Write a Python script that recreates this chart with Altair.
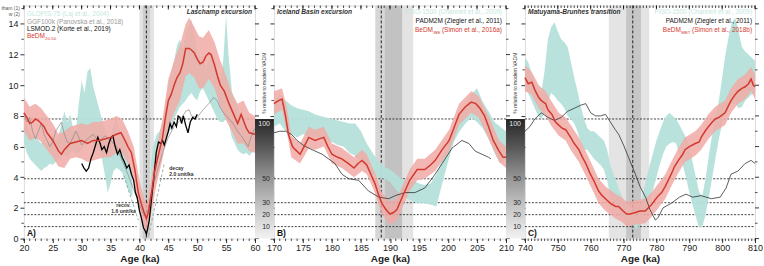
import altair as alt
import pandas as pd

FONT = "Liberation Sans"
H = 234
YMAX = 15.2
CYAN = "#b4e0d9"
PINK = "#f1aaa6"
RED = "#d2392f"

# horizontal reference levels (% of modern VADM)
LEVELS = [7.8, 3.9, 2.34, 1.56, 0.78]
PCT_LABELS = ["100", "50", "30", "20", "10"]

# ---------------- Panel A : Laschamp ----------------
a_red_age = [20, 20.5, 21, 21.5, 22, 22.5, 23, 23.5, 24, 25, 26, 26.5, 27, 28, 29, 30, 31, 32, 33, 34, 35, 36,
             36.8, 37.5, 38, 38.6, 39.2, 39.8, 40.3, 40.8, 41.2, 41.6, 42.1, 42.6, 43.0, 43.5, 44.0, 44.5, 45,
             45.5, 46, 46.5, 47, 47.5, 48, 48.6, 49, 49.5, 50, 50.5, 51, 51.5, 52, 52.4, 53, 53.5, 54, 54.7,
             55.5, 56.2, 57, 57.6, 58, 58.5, 59, 60]
a_red_val = [8.2, 7.9, 7.5, 7.6, 7.8, 7.7, 7.5, 7.3, 6.9, 6.4, 5.7, 5.5, 5.8, 6.2, 6.3, 6.4, 6.2, 6.4, 6.4, 6.5,
             6.6, 6.8, 6.9, 6.4, 6.0, 5.6, 4.5, 3.0, 2.3, 1.7, 1.3, 1.8, 3.0, 4.3, 5.0, 5.8, 6.6, 7.9, 9.0, 9.4,
             10.0, 10.5, 10.8, 11.4, 12.4, 12.4, 12.3, 12.1, 11.7, 11.4, 11.5, 11.9, 12.1, 12.0, 11.3, 10.6,
             10.0, 9.6, 8.8, 8.2, 7.5, 8.1, 7.7, 7.2, 6.9, 6.8]
a_pink_age = [20, 21, 22, 23, 24, 25, 26, 27, 28, 29, 30, 31, 32, 33, 34, 35, 36, 37, 38, 39, 40, 40.8, 41.3, 42,
              43, 44, 45, 46, 47, 48, 48.6, 49.5, 50.3, 51, 52, 53, 54, 55, 56, 57, 58, 59, 60]
a_pink_lo = [7.0, 6.4, 6.6, 6.3, 5.8, 5.3, 4.7, 4.6, 5.2, 5.3, 5.2, 5.0, 5.1, 5.2, 5.3, 5.3, 5.6, 5.6, 4.9, 3.8,
             1.8, 0.7, 0.4, 1.6, 3.6, 5.2, 7.2, 8.2, 9.0, 10.6, 10.8, 10.5, 9.8, 9.8, 10.4, 9.8, 8.6, 7.7, 7.0,
             6.2, 6.2, 5.7, 5.6]
a_pink_hi = [9.2, 8.6, 8.8, 8.5, 8.0, 7.5, 6.8, 7.0, 7.3, 7.4, 7.5, 7.4, 7.6, 7.6, 7.7, 7.8, 8.0, 7.8, 7.0, 6.0,
             3.8, 2.6, 2.2, 3.8, 6.0, 7.8, 10.4, 11.6, 12.6, 14.0, 14.4, 13.8, 13.2, 13.1, 13.6, 12.8, 11.6,
             10.6, 9.5, 8.8, 9.0, 8.2, 8.0]
a_cyan_age = [20, 20.5, 21, 21.5, 22, 22.5, 23, 23.5, 24, 24.5, 25, 25.5, 26, 26.5, 27, 27.5, 28, 28.5, 29, 29.5,
              30, 30.5, 31, 31.5, 32, 32.5, 33, 33.5, 34, 34.5, 35, 35.5, 36, 36.5, 37, 37.5, 38, 38.5, 38.8,
              42.0, 42.5, 43, 43.5, 44, 44.5, 45, 45.5, 46, 46.5, 47, 47.5, 48, 48.5, 49, 49.5, 50, 50.5, 51,
              51.5, 52, 52.5, 53, 53.5, 54, 54.5, 55, 55.4, 56, 56.5, 57, 57.5, 58, 58.5, 59, 59.5, 60]
a_cyan_lo = [6.3, 5.6, 5.2, 5.0, 4.8, 4.6, 4.4, 4.6, 4.7, 4.9, 4.8, 5.0, 5.1, 5.4, 5.5, 5.3, 5.6, 5.8, 5.5, 5.6,
             5.8, 6.0, 6.2, 6.3, 6.2, 6.0, 5.8, 5.2, 4.2, 3.0, 3.6, 4.4, 4.6, 4.5, 4.3, 3.8, 3.2, 2.8, 2.8,
             3.0, 4.0, 5.0, 5.4, 5.8, 6.4, 6.8, 7.2, 7.8, 8.2, 8.6, 8.8, 9.0, 9.3, 9.5, 9.2, 9.0, 9.6, 9.8,
             9.4, 9.0, 8.6, 8.2, 7.8, 7.6, 7.6, 7.8, 7.6, 6.6, 6.2, 5.8, 5.6, 5.5, 5.6, 5.4, 5.6, 5.8]
a_cyan_hi = [7.6, 7.4, 7.0, 6.6, 6.8, 6.4, 6.2, 6.5, 6.0, 6.4, 6.7, 6.3, 6.8, 7.4, 8.3, 7.6, 8.1, 7.2, 7.0, 8.8,
             10.3, 9.5, 10.9, 11.1, 9.9, 9.2, 8.5, 7.8, 7.2, 6.8, 6.6, 7.4, 7.8, 7.2, 6.8, 6.2, 5.6, 4.6, 3.8,
             5.0, 6.2, 6.8, 7.0, 7.6, 8.8, 10.0, 10.8, 11.6, 12.6, 13.0, 12.4, 13.4, 13.8, 14.3, 13.2, 12.2,
             11.6, 12.0, 11.2, 11.6, 12.2, 11.8, 11.0, 10.4, 11.6, 14.6, 12.0, 9.6, 9.0, 8.6, 8.0, 7.8, 7.2,
             7.0, 7.4, 7.2]
a_cyan_seg = [1] * 39 + [2] * 37
a_grey_age = [20, 20.5, 21, 21.5, 22, 22.5, 23, 23.5, 24, 24.5, 25, 25.5, 26, 26.5, 27, 27.5, 28, 28.5, 29, 29.5,
              30, 31, 32, 33, 34, 35, 36, 37, 38, 39, 40, 40.8, 41.5, 42, 43, 44, 45, 46, 47, 48, 48.6, 49, 50,
              51, 52, 52.8, 53.5, 54, 55, 56, 57, 58, 58.8, 59.3, 60]
a_grey_val = [8.2, 7.6, 7.9, 7.0, 6.5, 7.0, 7.5, 6.8, 6.4, 6.0, 6.3, 7.0, 7.3, 7.6, 6.8, 6.3, 6.2, 6.6, 7.0, 6.6,
              6.1, 6.5, 6.8, 6.3, 6.7, 6.4, 6.0, 5.1, 4.2, 3.2, 2.2, 1.5, 1.9, 2.9, 4.3, 5.6, 6.6, 7.3, 7.7, 8.3,
              8.4, 8.0, 7.9, 8.4, 8.8, 9.2, 9.0, 8.5, 8.0, 7.6, 7.0, 6.5, 6.0, 6.6, 7.2]
a_black_age = [30.0, 30.4, 30.8, 31.2, 31.6, 32.0, 32.4, 32.8, 33.2, 33.5, 33.9, 34.3, 34.7, 35.1, 35.4, 35.8,
               36.2, 36.6, 37.0, 37.4, 37.8, 38.2, 38.6, 39.0, 39.3, 39.6, 40.0, 40.3, 40.7, 41.0, 41.2, 41.4,
               41.7, 41.9, 42.2, 42.5, 42.9, 43.3, 43.7, 44.0, 44.3, 44.7, 45.0, 45.3, 45.6, 46.0, 46.4, 46.7,
               47.0, 47.3, 47.6, 48.0, 48.4, 48.8, 49.2, 49.6, 50.0]
a_black_val = [4.9, 4.6, 4.4, 4.6, 5.2, 5.6, 6.1, 6.6, 6.2, 5.8, 6.0, 5.6, 6.2, 6.6, 6.7, 6.0, 5.5, 5.8, 5.3, 5.0,
               4.6, 4.8, 4.2, 3.8, 3.0, 2.7, 1.8, 1.4, 0.7, 0.5, 0.3, 0.6, 1.2, 1.9, 3.0, 4.0, 5.6, 6.3, 6.2,
               6.4, 6.1, 6.6, 7.0, 7.5, 7.2, 7.6, 7.3, 8.0, 7.9, 7.5, 8.0, 7.4, 6.9, 7.6, 7.9, 7.8, 8.1]
a_recov_age = [37.3, 39.8]
a_recov_val = [4.1, 1.2]
a_decay_age = [41.6, 44.3]
a_decay_val = [0.2, 4.9]

# ---------------- Panel B : Iceland Basin ----------------
b_red_age = [170, 170.8, 171.4, 172.0, 172.5, 173.2, 173.7, 174.5, 175.2, 176, 177.1, 177.8, 178.6, 179.3, 180,
             181, 181.7, 182.8, 183.8, 184.5, 185.2, 186, 186.7, 187.4, 188, 188.6, 189.3, 190, 190.6, 191.2,
             192.1, 193.4, 194.7, 196, 197, 197.8, 199, 200.2, 201, 201.9, 203, 204, 204.8, 205.5, 206.3, 207,
             207.8, 208.8, 209.5, 210]
b_red_val = [8.8, 9.0, 9.1, 8.0, 6.8, 6.0, 5.8, 5.5, 6.0, 6.6, 6.4, 6.5, 6.6, 6.0, 5.5, 5.3, 5.2, 4.9, 4.6, 4.9,
             5.1, 4.8, 4.2, 3.6, 2.9, 2.3, 1.9, 1.6, 1.7, 1.9, 2.7, 3.8, 4.5, 4.5, 4.8, 5.1, 5.8, 6.4, 7.2, 8.1,
             8.6, 8.9, 8.8, 8.5, 8.0, 7.3, 6.4, 5.7, 5.3, 5.3]
b_pink_age = [170, 171.4, 172.2, 173, 174.5, 176, 177.1, 178.6, 180, 181.7, 183.8, 185.2, 186, 187.4, 188.6, 190,
              191.2, 192.1, 193.4, 194.7, 196, 197.8, 200.2, 201.9, 204, 205.3, 207, 208.8, 210]
b_pink_lo = [8.1, 8.4, 7.0, 5.3, 4.9, 5.9, 5.8, 6.0, 4.9, 4.6, 4.0, 4.4, 4.2, 3.0, 1.6, 0.9, 1.2, 2.0, 3.1, 3.8,
             3.9, 4.4, 5.7, 7.4, 8.2, 7.9, 6.5, 5.0, 4.6]
b_pink_hi = [9.6, 9.8, 8.6, 6.7, 6.2, 7.3, 7.1, 7.3, 6.2, 5.9, 5.3, 5.8, 5.5, 4.3, 3.0, 2.4, 2.6, 3.4, 4.5, 5.2,
             5.2, 5.8, 7.1, 8.8, 9.6, 9.3, 8.0, 6.4, 6.0]
b_cyan_age = list(range(170, 211))
b_cyan_lo = [7.3, 7.5, 7.0, 6.8, 6.6, 6.8, 6.7, 6.6, 6.5, 6.4, 6.3, 6.1, 6.0, 5.6, 5.4, 5.0, 4.5, 4.2, 4.0, 3.9,
             3.7, 3.2, 2.8, 2.6, 2.4, 2.3, 2.3, 2.2, 2.1, 3.6, 5.0, 6.3, 7.0, 7.5, 7.9, 7.6, 7.2, 6.5, 5.6, 4.9,
             5.2]
b_cyan_hi = [8.9, 9.4, 9.0, 8.7, 8.5, 8.4, 8.3, 8.1, 8.0, 7.9, 7.8, 7.7, 7.6, 7.5, 7.5, 7.0, 6.2, 5.6, 5.0, 4.7,
             4.5, 4.2, 3.9, 3.8, 3.8, 3.6, 3.5, 3.6, 4.2, 5.2, 6.2, 7.3, 8.2, 8.7, 9.4, 9.8, 8.9, 8.3, 7.6, 7.3,
             7.0]
b_black_age = [170, 171, 172, 173, 174, 175, 176, 178.3, 180.5, 181.7, 182.9, 184.6, 186.3, 188.1, 189.8, 190.9,
               192.6, 194.3, 196, 197.6, 199, 200.7, 202.4, 203.6, 204.7, 207, 207.4]
b_black_val = [6.9, 7.0, 7.0, 6.8, 6.4, 6.1, 5.9, 5.5, 4.9, 4.2, 3.9, 3.8, 3.1, 2.7, 2.6, 2.8, 3.0, 3.0, 3.3, 4.1,
               4.9, 5.9, 6.4, 6.2, 5.7, 5.3, 5.2]

# ---------------- Panel C : Matuyama-Brunhes ----------------
c_red_age = [740, 741, 742.1, 743, 744.2, 745, 746.3, 747, 748.2, 749.3, 750.3, 751.3, 752.4, 753.9, 755, 756.4,
             757.5, 758.5, 759.7, 760.9, 762.4, 763.5, 764.5, 766, 767.6, 768.5, 769.4, 770.9, 772, 773.6, 775,
             776.6, 777.5, 778.5, 779.5, 780.6, 781.6, 782.7, 784.5, 785.5, 786.7, 788, 788.7, 790, 791.8, 793,
             793.6, 794.8, 795.8, 797, 797.9, 799, 800.9, 802, 802.7, 804, 804.8, 806, 807, 808, 808.8, 809.5,
             810]
c_red_val = [10.5, 10.1, 10.2, 9.7, 9.2, 9.0, 8.8, 8.4, 8.1, 7.6, 7.4, 7.2, 7.1, 6.6, 6.2, 5.8, 5.3, 4.9, 4.3,
             3.8, 3.1, 2.8, 2.6, 2.3, 2.1, 2.1, 1.9, 1.6, 1.6, 1.7, 1.8, 1.8, 2.0, 2.2, 2.5, 2.8, 3.0, 3.4, 4.2,
             4.7, 5.1, 5.5, 5.8, 6.0, 6.2, 6.3, 6.6, 7.0, 7.3, 7.6, 7.8, 7.9, 8.2, 8.7, 9.0, 9.4, 9.6, 9.8, 9.9,
             10.1, 10.4, 10.0, 9.9]
c_pink_age = [740, 742, 744.2, 746.3, 748.2, 750.3, 752.4, 753.9, 756.4, 758.5, 760.9, 762.4, 764.5, 767.6, 769.4,
              770.9, 773.6, 776.6, 778.5, 780.6, 782.7, 784.5, 786.7, 788.7, 791.8, 793.6, 795.8, 797.9, 800.9,
              802.7, 804.8, 807, 808.8, 810]
c_pink_lo = [9.6, 9.4, 8.5, 8.0, 7.3, 6.7, 6.4, 5.8, 5.0, 4.1, 3.0, 2.3, 1.8, 1.3, 1.1, 0.8, 0.9, 1.0, 1.4, 2.0,
             2.6, 3.4, 4.3, 5.0, 5.4, 5.8, 6.5, 7.0, 7.4, 8.2, 8.8, 9.1, 9.6, 9.1]
c_pink_hi = [11.3, 10.9, 10.0, 9.6, 8.9, 8.2, 7.9, 7.4, 6.6, 5.7, 4.6, 3.9, 3.4, 2.9, 2.7, 2.4, 2.5, 2.6, 3.0,
             3.6, 4.2, 5.0, 5.9, 6.6, 7.0, 7.4, 8.1, 8.6, 9.0, 9.8, 10.4, 10.7, 11.2, 10.7]
c_cyan_age = list(range(740, 811))
c_cyan_lo = [9.8, 9.5, 9.0, 8.5, 8.0, 7.8, 8.2, 9.0, 9.5, 9.3, 9.0, 8.8, 8.5, 8.0, 7.8, 7.5, 7.0, 6.2, 5.8, 5.8,
             5.5, 5.2, 5.0, 4.8, 4.5, 3.8, 2.8, 2.4, 2.0, 1.6, 1.3, 1.1, 1.0, 0.8, 0.6, 1.0, 1.5, 2.0, 2.5, 3.2,
             4.0, 4.8, 5.5, 6.0, 6.2, 6.3, 6.2, 5.5, 4.8, 4.0, 3.0, 2.2, 1.4, 0.7, 0.8, 1.6, 2.8, 4.0, 5.3, 6.5,
             7.5, 8.2, 8.6, 8.8, 8.8, 8.5, 8.6, 9.0, 9.2, 9.4, 9.5]
c_cyan_hi = [11.8, 11.5, 10.8, 10.2, 9.7, 9.5, 11.0, 13.0, 13.8, 14.1, 13.5, 13.0, 12.8, 12.5, 11.5, 10.5, 9.6,
             8.6, 7.8, 7.2, 7.0, 7.0, 6.8, 6.6, 6.4, 5.8, 4.8, 4.2, 3.6, 3.0, 2.5, 2.2, 2.0, 1.8, 1.4, 1.8, 3.0,
             4.0, 4.8, 5.6, 6.4, 7.0, 7.6, 8.0, 8.2, 8.0, 7.8, 7.4, 7.0, 6.6, 6.0, 5.0, 4.0, 3.0, 2.8, 4.0, 5.5,
             6.8, 8.0, 9.0, 10.5, 12.0, 13.2, 14.1, 14.4, 13.5, 12.5, 12.2, 12.0, 11.8, 11.6]
c_black_age = [740, 741.5, 743, 745, 747, 749, 751, 753, 755, 757, 758.5, 760, 761.5, 763, 764.5, 766, 767.5,
               768.5, 770, 771.5, 773.6, 775, 776.7, 778, 779.7, 780.6, 782, 784.5, 787, 789, 791, 793.6, 796.7,
               799.4, 801.2, 802.7, 804.8, 807, 808.8, 810]
c_black_val = [7.0, 7.3, 7.8, 8.2, 7.9, 7.7, 7.9, 8.3, 8.5, 8.7, 8.8, 8.2, 8.0, 8.0, 8.1, 7.6, 7.1, 6.8, 6.1, 5.3,
               4.2, 3.4, 2.7, 1.9, 1.2, 1.4, 2.0, 2.3, 2.7, 2.9, 2.7, 2.8, 2.6, 2.7, 3.3, 4.2, 4.4, 4.9, 5.1, 4.9]


def xs(dom):
    return alt.Scale(domain=dom, nice=False, zero=False)


YS = alt.Scale(domain=[0, YMAX], nice=False, zero=False)


def make_axes(major, show_ylabels):
    ax = alt.Axis(values=major, title="Age (ka)", tickSize=4, tickColor="#000", tickWidth=0.8, labelFontSize=9,
                  labelColor="#222", labelFont=FONT, titleFont=FONT, titleFontSize=10, titleFontWeight="bold",
                  titleColor="#222", labelPadding=1, titlePadding=1, domain=False, grid=False, format="d",
                  labelFlush=False)
    ay = alt.Axis(values=list(range(0, 16, 2)), tickSize=4, tickColor="#000", tickWidth=0.8,
                  labels=show_ylabels, labelFontSize=9, labelColor="#222", labelFont=FONT, labelPadding=2,
                  title=None, domain=False, grid=False)
    return ax, ay


def txt(text, x, y, size, color="#222", align="left", weight="normal", style="normal", angle=0, baseline="middle"):
    kw = dict(text=text, align=align, baseline=baseline, fontSize=size, color=color, fontWeight=weight,
              fontStyle=style, font=FONT)
    if angle:
        kw["angle"] = angle
    return alt.Chart(pd.DataFrame({"a": [0]})).mark_text(**kw).encode(x=alt.value(x), y=alt.value(y))


def panel(dom, w, major, minor, bands, vline, level_segs, cyan, pink, red, black, black_style,
          grey=None, slopes=None, show_ylabels=False, gradient=False):
    ax, ay = make_axes(major, show_ylabels)

    def X(field):
        return alt.X(f"{field}:Q", scale=xs(dom), axis=ax)

    def Y(field):
        return alt.Y(f"{field}:Q", scale=YS, axis=ay)

    X2 = lambda f: alt.X2(f"{f}:Q")
    Y2 = lambda f: alt.Y2(f"{f}:Q")

    L = []
    bdf = pd.DataFrame(bands, columns=["x1", "x2", "c"])
    L.append(alt.Chart(bdf).mark_rect().encode(
        x=X("x1"), x2=X2("x2"), y=alt.value(0), y2=alt.value(H), color=alt.Color("c:N", scale=None)))
    axdf = pd.DataFrame({"x": [dom[0], dom[1]], "y": [0, YMAX]})
    L.append(alt.Chart(axdf).mark_point(opacity=0).encode(x=X("x"), y=Y("y")))
    ldf = pd.DataFrame(level_segs, columns=["x1", "x2", "y"])
    L.append(alt.Chart(ldf).mark_rule(color="#111", strokeDash=[2, 1.5], strokeWidth=0.8).encode(
        x=X("x1"), x2=X2("x2"), y=Y("y")))
    L.append(alt.Chart(pd.DataFrame({"x": [vline]})).mark_rule(color="#222", strokeDash=[3, 2], strokeWidth=1).encode(
        x=X("x"), y=alt.value(0), y2=alt.value(H)))
    cdf = pd.DataFrame({"x": cyan[0], "lo": cyan[1], "hi": cyan[2], "s": cyan[3]})
    L.append(alt.Chart(cdf).mark_area(color=CYAN, opacity=0.95).encode(
        x=X("x"), y=Y("lo"), y2=Y2("hi"), detail="s:N"))
    pdf = pd.DataFrame({"x": pink[0], "lo": pink[1], "hi": pink[2]})
    L.append(alt.Chart(pdf).mark_area(color=PINK, opacity=0.85).encode(x=X("x"), y=Y("lo"), y2=Y2("hi")))
    if grey is not None:
        gdf = pd.DataFrame({"x": grey[0], "y": grey[1]})
        L.append(alt.Chart(gdf).mark_line(color="#8a8a8a", strokeWidth=0.7).encode(x=X("x"), y=Y("y")))
    kdf = pd.DataFrame({"x": black[0], "y": black[1]})
    L.append(alt.Chart(kdf).mark_line(**black_style).encode(x=X("x"), y=Y("y")))
    if slopes is not None:
        for sx, sy in slopes:
            sdf = pd.DataFrame({"x": sx, "y": sy})
            L.append(alt.Chart(sdf).mark_line(color="#7fa394", strokeDash=[3, 2], strokeWidth=0.8).encode(
                x=X("x"), y=Y("y")))
    rdf = pd.DataFrame({"x": red[0], "y": red[1]})
    L.append(alt.Chart(rdf).mark_line(color=RED, strokeWidth=1.5).encode(x=X("x"), y=Y("y")))
    mdf = pd.DataFrame({"t": minor})
    Mdf = pd.DataFrame({"t": major})
    L.append(alt.Chart(mdf).mark_rule(color="#000", strokeWidth=0.7).encode(
        x=X("t"), y=alt.value(0), y2=alt.value(2.5)))
    L.append(alt.Chart(Mdf).mark_rule(color="#000", strokeWidth=0.8).encode(
        x=X("t"), y=alt.value(0), y2=alt.value(4)))
    L.append(alt.Chart(mdf).mark_rule(color="#000", strokeWidth=0.7).encode(
        x=X("t"), y=alt.value(H), y2=alt.value(H + 2.5)))
    yminor = pd.DataFrame({"v": list(range(1, 16, 2))})
    ymajor = pd.DataFrame({"v": list(range(0, 16, 2))})
    L.append(alt.Chart(yminor).mark_rule(color="#000", strokeWidth=0.7).encode(
        x=alt.value(0), x2=alt.value(-2.5), y=Y("v")))
    L.append(alt.Chart(yminor).mark_rule(color="#000", strokeWidth=0.7).encode(
        x=alt.value(w), x2=alt.value(w + 2.5), y=Y("v")))
    L.append(alt.Chart(ymajor).mark_rule(color="#000", strokeWidth=0.8).encode(
        x=alt.value(w), x2=alt.value(w + 4), y=Y("v")))
    if gradient:
        gdf2 = pd.DataFrame({"y1": [LEVELS[0]], "y0": [0.0]})
        grad = alt.LinearGradient(gradient="linear", x1=0, x2=0, y1=0, y2=1,
                                  stops=[alt.GradientStop(color="#262626", offset=0),
                                         alt.GradientStop(color="#5a5a5a", offset=0.25),
                                         alt.GradientStop(color="#979797", offset=0.5),
                                         alt.GradientStop(color="#c8c8c8", offset=0.75),
                                         alt.GradientStop(color="#f2f2f2", offset=1)])
        L.append(alt.Chart(gdf2).mark_rect(fill=grad).encode(
            x=alt.value(-19), x2=alt.value(0), y=Y("y1"), y2=Y2("y0")))
        top = pd.DataFrame({"y": LEVELS[:1], "t": PCT_LABELS[:1]})
        L.append(alt.Chart(top).mark_text(align="right", baseline="top", fontSize=7, font=FONT, dy=1,
                                          color="#e6e6e6").encode(x=alt.value(-4), y=Y("y"), text="t:N"))
        rest = pd.DataFrame({"y": LEVELS[1:], "t": PCT_LABELS[1:]})
        L.append(alt.Chart(rest).mark_text(align="right", baseline="middle", fontSize=7, font=FONT,
                                           color="#2a2a2a").encode(x=alt.value(-4), y=Y("y"), text="t:N"))
        L.append(txt("% relative to modern VADM", -10, 78, 5, color="#333", align="center", angle=270))
    return L


A_DOM = [20, 60]
B_DOM = [170, 210]
C_DOM = [740, 810]
WA, WB, WC = 232, 233, 231

full = lambda d: [(d[0], d[1], v) for v in LEVELS]

a_levels = [(20, 60, 7.8), (20, 38.5, 3.9), (43.5, 60, 3.9), (20, 60, 2.34), (20, 39.3, 1.56), (43.0, 60, 1.56),
            (20, 39.5, 0.78), (43.0, 60, 0.78)]

A_layers = panel(A_DOM, WA, list(range(20, 61, 5)), list(range(20, 61)),
                 [(40.0, 42.5, "#e2e2e2"), (40.6, 41.8, "#cdcdcd")], 41.2, a_levels,
                 (a_cyan_age, a_cyan_lo, a_cyan_hi, a_cyan_seg), (a_pink_age, a_pink_lo, a_pink_hi),
                 (a_red_age, a_red_val), (a_black_age, a_black_val), dict(color="#000", strokeWidth=1.3),
                 grey=(a_grey_age, a_grey_val), slopes=[(a_recov_age, a_recov_val), (a_decay_age, a_decay_val)],
                 show_ylabels=True)
A_layers += [
    txt("GLOPIS-75 (Laj et al., 2004)", 3, 9, 6.5, color="#c6e6e0"),
    txt("GGF100k (Panovska et al., 2018)", 3, 16.5, 6.5, color="#9a9a9a"),
    txt("LSMOD.2 (Korte et al., 2019)", 3, 24, 6.5, color="#111"),
    txt("BeDM", 3, 31, 6.5, color=RED),
    txt("20-50", 21.3, 33.5, 4.3, color=RED),
    txt("Laschamp excursion", WA - 3, 7, 6.6, color="#333", align="right", weight="bold", style="italic"),
    txt("A)", 3, 228, 8.5, color="#111", weight="bold"),
    txt("decay", 146, 163, 5, color="#333", weight="bold"),
    txt("2.0 unit/ka", 146, 169, 5, color="#333", weight="bold"),
    txt("recov.", 100, 200, 5, color="#333", weight="bold", align="center"),
    txt("1.6 unit/ka", 100, 206, 5, color="#333", weight="bold", align="center"),
    txt("tham (1)", -4, 2.5, 5, color="#555", align="right"),
    txt("w (2)", -4, 8.5, 5, color="#555", align="right"),
]
A = alt.layer(*A_layers).properties(width=WA, height=H)

B_layers = panel(B_DOM, WB, list(range(170, 211, 5)), list(range(170, 211)),
                 [(187.5, 194.0, "#e3e3e3"), (187.5, 189.1, "#d6d6d6"), (189.1, 192.1, "#c2c2c2")], 188.5,
                 full(B_DOM), (b_cyan_age, b_cyan_lo, b_cyan_hi, [1] * len(b_cyan_age)),
                 (b_pink_age, b_pink_lo, b_pink_hi), (b_red_age, b_red_val), (b_black_age, b_black_val),
                 dict(color="#333", strokeWidth=0.8), gradient=True)
B_layers += [
    txt("PISO-1500 (Channell et al., 2009)", WB - 4, 7, 6.5, color="#c6e6e0", align="right"),
    txt("PADM2M (Ziegler et al., 2011)", WB - 4, 16, 6.5, color="#111", align="right"),
    txt(" (Simon et al., 2016a)", WB - 4, 25, 6.5, color=RED, align="right"),
    txt("IBE", WB - 4 - 62, 27.5, 4.3, color=RED, align="right"),
    txt("BeDM", WB - 4 - 62 - 7.3, 25, 6.5, color=RED, align="right"),
    txt("Iceland Basin excursion", 3, 7, 6.6, color="#333", weight="bold", style="italic"),
    txt("B)", 3, 228, 8.5, color="#111", weight="bold"),
]
B = alt.layer(*B_layers).properties(width=WB, height=H)

C_layers = panel(C_DOM, WC, list(range(740, 811, 10)), list(range(740, 811)),
                 [(765.5, 777.8, "#e4e4e4"), (770.8, 775.3, "#c6c6c6")], 772.8,
                 full(C_DOM), (c_cyan_age, c_cyan_lo, c_cyan_hi, [1] * len(c_cyan_age)),
                 (c_pink_age, c_pink_lo, c_pink_hi), (c_red_age, c_red_val), (c_black_age, c_black_val),
                 dict(color="#333", strokeWidth=0.8), gradient=True)
C_layers += [
    txt("PISO-1500 (Channell et al., 2009)", WC - 3, 7, 6.5, color="#c6e6e0", align="right"),
    txt("PADM2M (Ziegler et al., 2011)", WC - 3, 16, 6.5, color="#111", align="right"),
    txt(" (Simon et al., 2018b)", WC - 3, 25, 6.5, color=RED, align="right"),
    txt("MBT", WC - 3 - 62, 27.5, 4.3, color=RED, align="right"),
    txt("BeDM", WC - 3 - 62 - 9.5, 25, 6.5, color=RED, align="right"),
    txt("Matuyama-Brunhes transition", 3, 7, 6.6, color="#333", weight="bold", style="italic"),
    txt("C)", 3, 228, 8.5, color="#111", weight="bold"),
]
C = alt.layer(*C_layers).properties(width=WC, height=H)

chart = alt.hconcat(A, B, C, spacing=19, bounds="flush").properties(
    padding={"left": 0, "top": 1, "right": 0, "bottom": 0}, background="white"
).configure_view(stroke="#000", strokeWidth=0.8).configure(font=FONT)

chart.save("out.html", embed_options={"renderer": "svg", "actions": False})
